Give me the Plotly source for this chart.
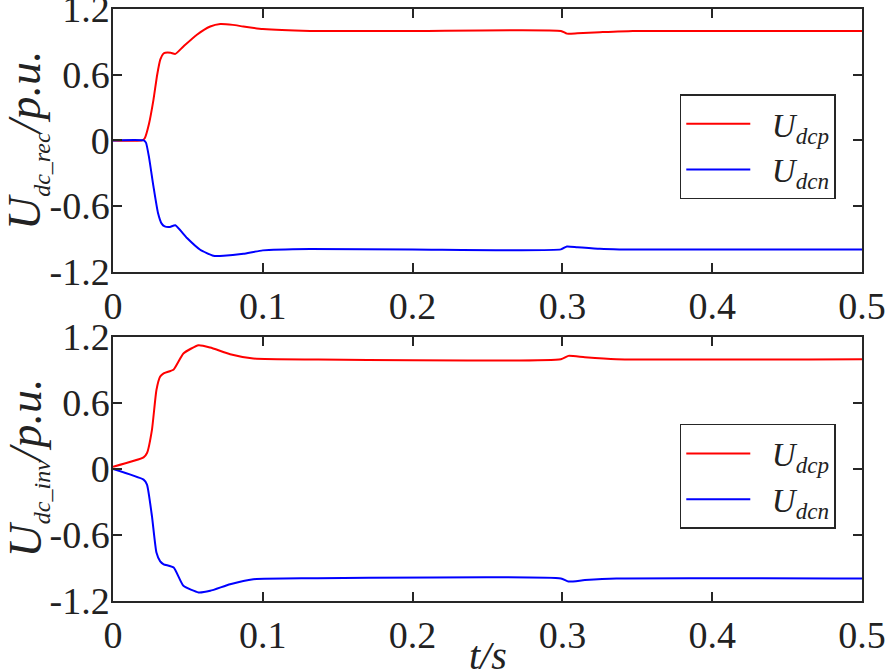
import plotly.graph_objects as go
from plotly.subplots import make_subplots

# rectifier side DC voltages (upper panel)
t_rec_p = [0, 0.0195, 0.0212, 0.024, 0.027, 0.0295, 0.0316, 0.0335, 0.0349, 0.0385, 0.0416, 0.047, 0.056,
           0.0649, 0.0716, 0.08, 0.087, 0.1, 0.1316, 0.2, 0.299, 0.303, 0.31, 0.325, 0.347, 0.5]
u_rec_p = [0, 0, 0.02, 0.15, 0.37, 0.6, 0.74, 0.79, 0.80, 0.80, 0.79, 0.858, 0.965,
           1.04, 1.063, 1.055, 1.04, 1.017, 1.0, 1.0, 1.0, 0.975, 0.978, 0.988, 1.0, 1.0]
t_rec_n = [0, 0.0205, 0.022, 0.024, 0.027, 0.03, 0.0325, 0.0345, 0.038, 0.0416, 0.0494, 0.0582, 0.067,
           0.0738, 0.087, 0.1, 0.1316, 0.2, 0.299, 0.303, 0.31, 0.325, 0.338, 0.5]
u_rec_n = [0, 0, -0.02, -0.15, -0.42, -0.66, -0.76, -0.785, -0.79, -0.775, -0.891, -0.998, -1.053,
           -1.053, -1.035, -1.004, -0.992, -0.995, -0.995, -0.968, -0.975, -0.99, -0.995, -0.995]

# inverter side DC voltages (lower panel)
t_inv = [0, 0.0204, 0.0227, 0.026, 0.029, 0.0315, 0.0338, 0.0405, 0.047, 0.0571, 0.0649, 0.0782,
         0.0937, 0.1316, 0.299, 0.304, 0.315, 0.336, 0.5]
u_inv_p = [0.02, 0.105, 0.145, 0.356, 0.718, 0.84, 0.869, 0.905, 1.05, 1.125, 1.104, 1.043,
           1.004, 0.995, 0.998, 1.028, 1.015, 0.998, 0.998]
u_inv_n = [0.0, -0.097, -0.142, -0.429, -0.76, -0.84, -0.866, -0.896, -1.062, -1.122, -1.107, -1.047,
           -1.002, -0.993, -0.995, -1.023, -1.01, -0.995, -0.995]

y_ticks = [-1.2, -0.6, 0, 0.6, 1.2]
y_ticktext = ['-1.2', '-0.6', '0', '0.6', '1.2']
x_ticks = [0, 0.1, 0.2, 0.3, 0.4, 0.5]
x_ticktext = ['0', '0.1', '0.2', '0.3', '0.4', '0.5']

FONT = 'Liberation Serif, Times New Roman, serif'
AX = '#262626'
TXT = '#222222'
NB = '\u00a0\u00a0'  # gap between legend line and label

fig = make_subplots(rows=2, cols=1)

line_kw = dict(mode='lines', line_shape='spline')
fig.add_trace(go.Scatter(x=t_rec_p, y=u_rec_p, name=NB + '<i>U<sub>dcp</sub></i>',
                         line=dict(color='#ff0000', width=2, smoothing=0.5), legend='legend',
                         **line_kw), row=1, col=1)
fig.add_trace(go.Scatter(x=t_rec_n, y=u_rec_n, name=NB + '<i>U<sub>dcn</sub></i>',
                         line=dict(color='#0000ff', width=2, smoothing=0.5), legend='legend',
                         **line_kw), row=1, col=1)
fig.add_trace(go.Scatter(x=t_inv, y=u_inv_p, name=NB + '<i>U<sub>dcp</sub></i>',
                         line=dict(color='#ff0000', width=2, smoothing=0.5), legend='legend2',
                         **line_kw), row=2, col=1)
fig.add_trace(go.Scatter(x=t_inv, y=u_inv_n, name=NB + '<i>U<sub>dcn</sub></i>',
                         line=dict(color='#0000ff', width=2, smoothing=0.5), legend='legend2',
                         **line_kw), row=2, col=1)

axis_common = dict(showline=True, linecolor=AX, linewidth=1.5, mirror='ticks',
                   ticks='inside', ticklen=9, tickwidth=1.5, tickcolor=AX,
                   showgrid=False, zeroline=False, automargin=False,
                   ticklabeloverflow='allow',
                   tickfont=dict(family=FONT, size=38, color=TXT))

fig.update_xaxes(range=[0, 0.5], tickvals=x_ticks, ticktext=x_ticktext,
                 ticklabelstandoff=0, **axis_common)
fig.update_yaxes(range=[-1.2, 1.2], tickvals=y_ticks, ticktext=y_ticktext,
                 ticklabelstandoff=-6, **axis_common)

title_font = dict(family=FONT, size=46, color=TXT)
sub = '<span style="font-size:24px">{}</span>'
leg_font = dict(family=FONT, size=33, color=TXT)
fig.update_layout(
    xaxis=dict(domain=[0, 1]),
    yaxis=dict(domain=[0.556, 1]),
    xaxis2=dict(domain=[0, 1]),
    yaxis2=dict(domain=[0, 0.446]),
    annotations=[
        dict(text='<i>U<sub>' + sub.format('dc_rec') + '</sub>/p.u.</i>', xref='paper', yref='paper',
             x=-0.114, y=0.778, xanchor='center', yanchor='middle', textangle=-90,
             showarrow=False, font=title_font),
        dict(text='<i>U<sub>' + sub.format('dc_inv') + '</sub>/p.u.</i>', xref='paper', yref='paper',
             x=-0.114, y=0.225, xanchor='center', yanchor='middle', textangle=-90,
             showarrow=False, font=title_font),
        dict(text='<i>t/s</i>', xref='paper', yref='paper',
             x=0.5, y=-0.092, xanchor='center', yanchor='middle',
             showarrow=False, font=dict(family=FONT, size=40, color=TXT)),
    ],
    legend=dict(x=0.965, y=0.856, xanchor='right', yanchor='top',
                bordercolor=AX, borderwidth=1.5, bgcolor='white', itemwidth=64,
                font=leg_font),
    legend2=dict(x=0.965, y=0.299, xanchor='right', yanchor='top',
                 bordercolor=AX, borderwidth=1.5, bgcolor='white', itemwidth=64,
                 font=leg_font),
    width=894,
    height=672,
    margin=dict(l=113, r=32, t=9, b=71),
    plot_bgcolor='white',
    paper_bgcolor='white',
    showlegend=True,
)

# drop the default page margin so the figure sits at the window's corner
fig.write_html("out.html", config={'displayModeBar': False},
               post_script="document.body.style.margin='0';")
